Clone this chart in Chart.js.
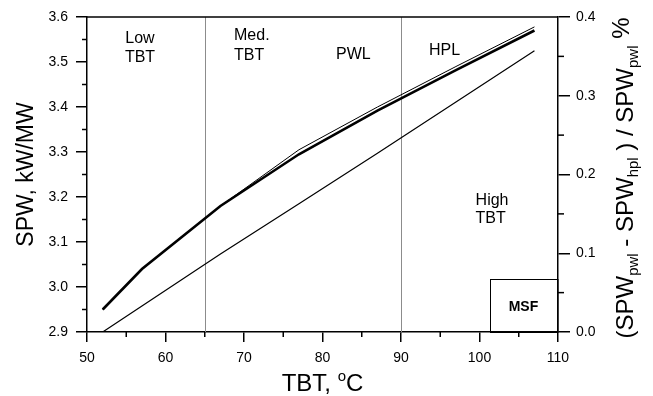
<!DOCTYPE html>
<html><head><meta charset="utf-8">
<script src="https://cdn.jsdelivr.net/npm/chart.js@4.4.0/dist/chart.umd.min.js"></script>
<style>html,body{margin:0;padding:0;background:#fff;}#wrap{width:653px;height:396px;}</style>
</head><body><div id="wrap"><canvas id="c" width="653" height="396"></canvas></div>
<script>
// ---- data ----
const tbt      = [52, 57, 67, 77, 87, 97, 107];
const spwPWL   = [2.950, 3.040, 3.180, 3.305, 3.400, 3.490, 3.578];
const spwHPL   = [2.950, 3.040, 3.180, 3.295, 3.392, 3.482, 3.570];
const diffPct  = [0.000, 0.033, 0.099, 0.163, 0.227, 0.292, 0.357];
const xTickStep = 10, yTickStep = 0.1, y2TickStep = 0.1;
const regionBounds = [65, 90];

const FONT = '"Liberation Sans", Arial, Helvetica, sans-serif';

const pts = (xs, ys) => xs.map((x, i) => ({x, y: ys[i]}));

const deco = {
  id: 'deco',
  beforeDatasetsDraw(chart) {
    const {ctx, chartArea: a, scales: {x}} = chart;
    ctx.save();
    ctx.strokeStyle = '#8c8c8c'; ctx.lineWidth = 1;
    regionBounds.forEach(v => {
      const px = Math.round(x.getPixelForValue(v)) + 0.5;
      ctx.beginPath(); ctx.moveTo(px, a.top); ctx.lineTo(px, a.bottom); ctx.stroke();
    });
    ctx.restore();
  },
  afterDraw(chart) {
    const {ctx, chartArea: a, scales: {x, y, y2}} = chart;
    ctx.save();
    // minor ticks
    ctx.strokeStyle = '#000'; ctx.lineWidth = 1.5;
    for (let v = x.min + xTickStep / 2; v < x.max; v += xTickStep) {
      const px = x.getPixelForValue(v);
      ctx.beginPath(); ctx.moveTo(px, a.bottom); ctx.lineTo(px, a.bottom + 5); ctx.stroke();
    }
    for (let v = y.min + yTickStep / 2; v < y.max; v += yTickStep) {
      const py = y.getPixelForValue(v);
      ctx.beginPath(); ctx.moveTo(a.left, py); ctx.lineTo(a.left - 5, py); ctx.stroke();
    }
    for (let v = y2.min + y2TickStep / 2; v < y2.max; v += y2TickStep) {
      const py = y2.getPixelForValue(v);
      ctx.beginPath(); ctx.moveTo(a.right, py); ctx.lineTo(a.right + 6, py); ctx.stroke();
    }
    // top border
    ctx.beginPath(); ctx.moveTo(a.left, a.top); ctx.lineTo(a.right, a.top); ctx.stroke();

    // MSF box
    ctx.lineWidth = 1;
    const bx = x.getPixelForValue(101.3), by = y.getPixelForValue(3.018);
    ctx.strokeRect(Math.round(bx) + 0.5, Math.round(by) + 0.5, a.right - Math.round(bx) - 0.5, a.bottom - Math.round(by));

    // annotations
    ctx.fillStyle = '#000';
    ctx.textBaseline = 'alphabetic';
    const txt = (s, xv, yv, align, font) => {
      ctx.font = font; ctx.textAlign = align;
      ctx.fillText(s, x.getPixelForValue(xv), y.getPixelForValue(yv));
    };
    const f16 = '16px ' + FONT;
    txt('Low', 56.75, 3.542, 'center', f16);
    txt('TBT', 56.75, 3.500, 'center', f16);
    txt('Med.', 68.73, 3.549, 'left', f16);
    txt('TBT', 68.73, 3.504, 'left', f16);
    txt('PWL', 81.72, 3.5056, 'left', f16);
    txt('HPL', 93.57, 3.5156, 'left', f16);
    txt('High', 99.5, 3.1822, 'left', f16);
    txt('TBT', 99.5, 3.1422, 'left', f16);
    txt('MSF', 105.6, 2.9467, 'center', 'bold 14px ' + FONT);

    // axis titles
    const rich = (segs, px, py, rot) => {
      ctx.save(); ctx.translate(px, py); if (rot) ctx.rotate(-Math.PI / 2);
      ctx.textAlign = 'left'; ctx.textBaseline = 'alphabetic';
      let tot = 0;
      segs.forEach(s => { ctx.font = s.f; s.w = ctx.measureText(s.t).width; tot += s.w; });
      let cx = -tot / 2;
      segs.forEach(s => { ctx.font = s.f; ctx.fillText(s.t, cx, s.dy || 0); cx += s.w; });
      ctx.restore();
    };
    const M = '23px ' + FONT, M2 = '24px ' + FONT, S = '15px ' + FONT;
    rich([{t: 'SPW, kW/MW', f: M}], 33, (a.top + a.bottom) / 2, true);
    rich([{t: 'TBT, ', f: M2}, {t: 'o', f: S, dy: -10}, {t: 'C', f: M2}], (a.left + a.right) / 2, 391, false);
    rich([
      {t: '(SPW', f: M2}, {t: 'pwl', f: S, dy: 5},
      {t: ' - SPW', f: M2}, {t: 'hpl', f: S, dy: 5},
      {t: ' ) / SPW', f: M2}, {t: 'pwl', f: S, dy: 5},
      {t: ' %', f: M2, dy: -4}
    ], 633, 178, true);
    ctx.restore();
  }
};

const tickFont = {family: FONT, size: 14};
new Chart(document.getElementById('c'), {
  type: 'line',
  data: {
    datasets: [
      {label: 'PWL', data: pts(tbt, spwPWL), yAxisID: 'y', borderColor: '#000', borderWidth: 1, pointRadius: 0, tension: 0},
      {label: 'HPL', data: pts(tbt, spwHPL), yAxisID: 'y', borderColor: '#000', borderWidth: 2.6, pointRadius: 0, tension: 0},
      {label: 'diff', data: pts(tbt, diffPct), yAxisID: 'y2', borderColor: '#000', borderWidth: 1.2, pointRadius: 0, tension: 0}
    ]
  },
  options: {
    responsive: false, animation: false, devicePixelRatio: 1,
    layout: {padding: {top: 17, left: 0, right: 0, bottom: 0}},
    plugins: {legend: {display: false}, tooltip: {enabled: false}},
    scales: {
      x: {type: 'linear', position: 'bottom', min: 50, max: 110,
        afterFit: s => { s.height = 64; },
        ticks: {stepSize: xTickStep, color: '#000', font: tickFont, padding: 8, maxRotation: 0},
        grid: {drawOnChartArea: false, drawTicks: true, tickLength: 10, color: '#000', lineWidth: 1.5},
        border: {display: true, color: '#000', width: 1.5}},
      y: {type: 'linear', position: 'left', min: 2.9, max: 3.6,
        afterFit: s => { s.width = 87; },
        ticks: {stepSize: yTickStep, color: '#000', font: tickFont, padding: 8, callback: v => v.toFixed(1)},
        grid: {drawOnChartArea: false, drawTicks: true, tickLength: 11, color: '#000', lineWidth: 1.5},
        border: {display: true, color: '#000', width: 1.5}},
      y2: {type: 'linear', position: 'right', min: 0, max: 0.4,
        afterFit: s => { s.width = 95; },
        ticks: {stepSize: y2TickStep, color: '#000', font: tickFont, padding: 6, callback: v => v.toFixed(1)},
        grid: {drawOnChartArea: false, drawTicks: true, tickLength: 12, color: '#000', lineWidth: 1.5},
        border: {display: true, color: '#000', width: 1.5}}
    }
  },
  plugins: [deco]
});
</script></body></html>
